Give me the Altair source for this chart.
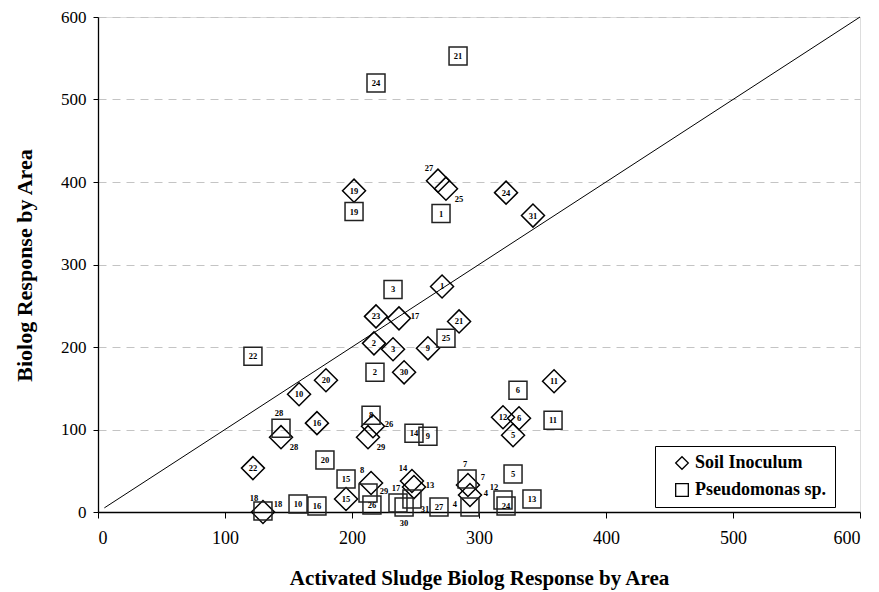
import altair as alt
import pandas as pd

# ---- data ----
soil_id = list(range(1, 32))
soil_x = [270.9, 217.3, 232.3, 292.9, 326.8, 331.5, 291.3, 215.0, 259.8, 158.3,
          359.1, 318.9, 248.8, 247.2, 195.3, 172.4, 237.0, 129.9, 201.6, 179.5,
          284.3, 122.0, 218.9, 321.3, 274.0, 216.5, 267.7, 144.1, 212.6, 241.0, 342.5]
soil_y = [273.4, 204.4, 197.2, 20.6, 93.1, 113.7, 32.7, 35.1, 198.4, 142.7,
          158.5, 114.9, 30.2, 37.5, 15.7, 107.7, 234.7, 0.0, 389.5, 159.7,
          231.0, 53.2, 237.1, 387.1, 391.9, 104.0, 401.6, 90.7, 90.7, 169.3, 359.3]
soil_lab = ["c", "c", "c", "r", "c", "c", "ur", "ul", "c", "c",
            "c", "c", "r", "ul", "c", "c", "r", "ur", "c", "c",
            "c", "c", "c", "c", "br", "r", "ul", "br", "br", "c", "c"]

pseudo_id = list(range(1, 23)) + [24, 24] + list(range(25, 32))
pseudo_x = [270.1, 218.1, 232.3, 292.9, 326.8, 330.7, 290.6, 215.0, 259.8, 157.5,
            358.3, 318.9, 341.7, 248.8, 195.3, 172.4, 236.2, 129.9, 201.6, 178.7,
            283.5, 122.0, 218.9, 321.3, 274.0, 215.7, 268.5, 144.1, 212.6, 241.0, 247.2]
pseudo_y = [361.7, 169.3, 269.7, 6.0, 46.0, 147.6, 39.9, 117.3, 91.9, 9.7,
            111.3, 14.5, 15.7, 95.6, 39.9, 7.3, 10.9, 1.2, 364.1, 62.9,
            552.8, 188.7, 520.1, 7.3, 210.5, 8.5, 6.0, 101.6, 23.0, 6.0, 15.7]
pseudo_lab = ["c", "c", "c", "l", "c", "c", "t", "c", "c", "c",
              "c", "ul", "c", "c", "c", "c", "t", "ul", "c", "c",
              "c", "c", "c", "c", "c", "c", "c", "t", "r", "b", "br"]

series_names = ["Soil Inoculum", "Pseudomonas sp."]
line_x = [5, 600]
line_y = [5, 600]
ticks = [0, 100, 200, 300, 400, 500, 600]

# ---- tables ----
rows = []
for i, x, y, p in zip(soil_id, soil_x, soil_y, soil_lab):
    rows.append({"id": str(i), "x": x, "y": y, "pos": p, "series": series_names[0]})
for i, x, y, p in zip(pseudo_id, pseudo_x, pseudo_y, pseudo_lab):
    rows.append({"id": str(i), "x": x, "y": y, "pos": p, "series": series_names[1]})
df = pd.DataFrame(rows)
line_df = pd.DataFrame({"x": line_x, "y": line_y})

FONT = "Liberation Serif"
xscale = alt.Scale(domain=[0, 600], nice=False, zero=False)
yscale = alt.Scale(domain=[0, 600], nice=False, zero=False)

xaxis = alt.Axis(values=ticks, grid=False, tickSize=6, tickColor="black", domainColor="black",
                 domainWidth=1.3, labelFont=FONT, labelFontSize=18, labelColor="black",
                 labelPadding=11, title="Activated Sludge Biolog Response by Area",
                 titleFont=FONT, titleFontSize=21, titleFontWeight="bold", titleColor="black",
                 titleX=381, titleY=66, titleBaseline="middle")
yaxis = alt.Axis(values=ticks, grid=True, gridDash=[8, 6], gridColor="#c4c4c4", tickSize=5,
                 tickColor="black", domainColor="black", domainWidth=1.3, labelFont=FONT,
                 labelFontSize=17, labelColor="black", labelPadding=7,
                 title="Biolog Response by Area", titleFont=FONT, titleFontSize=22,
                 titleFontWeight="bold", titleColor="black", titleX=-74, titleY=248,
                 titleBaseline="middle")

line = alt.Chart(line_df).mark_line(color="black", strokeWidth=1).encode(
    x=alt.X("x:Q", scale=xscale, axis=xaxis),
    y=alt.Y("y:Q", scale=yscale, axis=yaxis),
)

shape_enc = alt.Shape(
    "series:N", title=None,
    scale=alt.Scale(domain=series_names, range=["diamond", "square"]),
    legend=alt.Legend(orient="none", legendX=557, legendY=429,
                      labelFont=FONT, labelFontSize=18, labelFontWeight="bold",
                      labelColor="black", symbolSize=160, symbolStrokeWidth=1.3,
                      symbolStrokeColor="black", symbolFillColor="white",
                      symbolOffset=10, labelOffset=4, rowPadding=9,
                      labelExpr="datum.label + '\u00a0\u00a0\u00a0'",
                      padding=8, strokeColor="black", fillColor="white"),
)

diamonds = alt.Chart(df).transform_filter(alt.datum.series == series_names[0]).mark_point(
    filled=False, color="black", strokeWidth=1.5, opacity=1, size=529
).encode(x=alt.X("x:Q", scale=xscale), y=alt.Y("y:Q", scale=yscale), shape=shape_enc)

squares = alt.Chart(df).transform_filter(alt.datum.series == series_names[1]).mark_point(
    filled=False, color="#222222", strokeWidth=1.5, opacity=1, size=324
).encode(x=alt.X("x:Q", scale=xscale), y=alt.Y("y:Q", scale=yscale), shape=shape_enc)

offsets = {"c": (0, 0), "r": (16, -2), "ur": (15, -8), "br": (13, 10), "ul": (-9, -13),
           "t": (-2, -15), "b": (0, 16), "l": (-15, -3)}
text_layers = []
for code, (dx, dy) in offsets.items():
    text_layers.append(
        alt.Chart(df).transform_filter(alt.datum.pos == code).mark_text(
            font=FONT, fontSize=8.5, fontWeight="bold", color="black", dx=dx, dy=dy,
            align="center", baseline="middle"
        ).encode(x=alt.X("x:Q", scale=xscale), y=alt.Y("y:Q", scale=yscale), text="id:N")
    )

chart = alt.layer(line, diamonds, squares, *text_layers).properties(
    width=762, height=495,
    autosize=alt.AutoSizeParams(type="none"),
    padding={"left": 90, "top": 9, "right": 10, "bottom": 80},
).configure_view(stroke="#8c8c8c", strokeWidth=1).configure(background="white")

chart.save("out.html", embed_options={"renderer": "svg", "actions": False})
